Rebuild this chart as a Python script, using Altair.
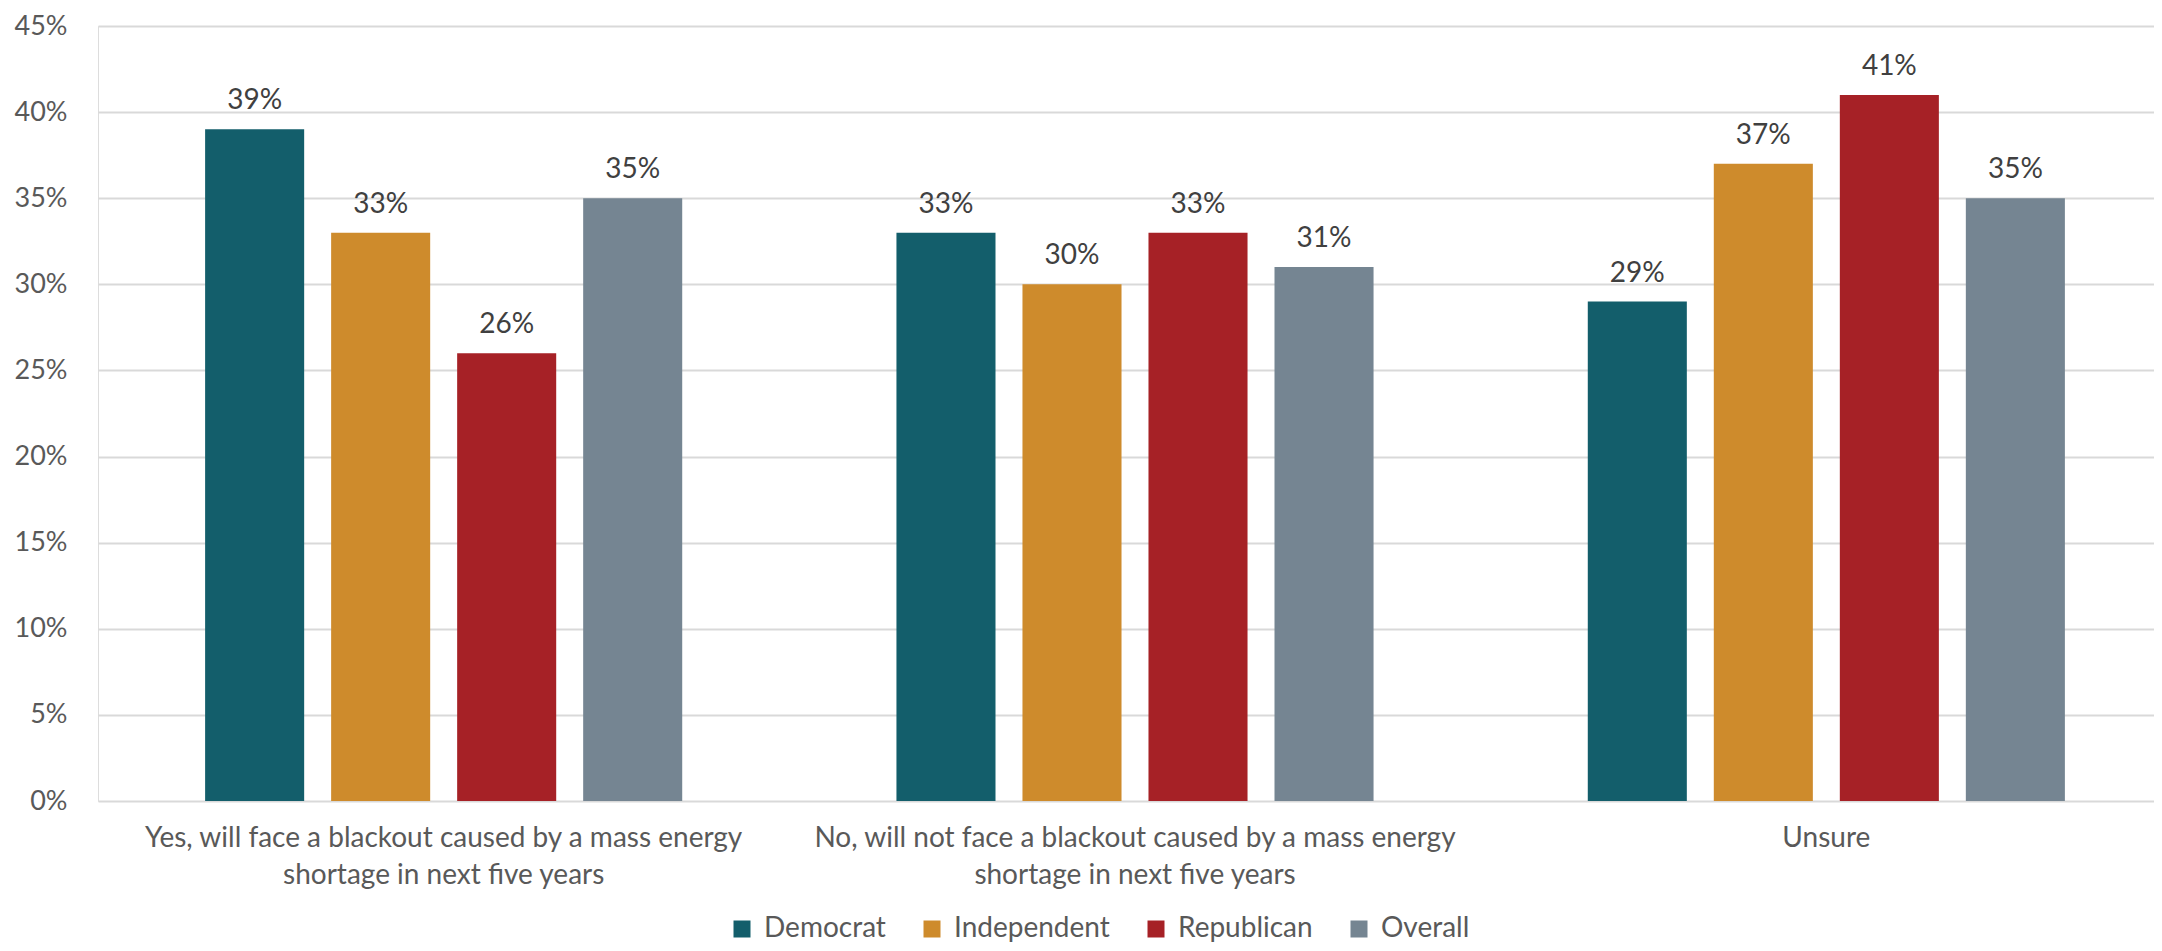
import altair as alt
import pandas as pd

categories = [
    "Yes, will face a blackout caused by a mass energy|shortage in next five years",
    "No, will not face a blackout caused by a mass energy|shortage in next five years",
    "Unsure",
]
parties = ["Democrat", "Independent", "Republican", "Overall"]
democrat = [39, 33, 29]
independent = [33, 30, 37]
republican = [26, 33, 41]
overall = [35, 31, 35]
colors = ["#135E6B", "#CE8B2C", "#A62126", "#758592"]
y_ticks = [0, 5, 10, 15, 20, 25, 30, 35, 40, 45]

series = [democrat, independent, republican, overall]
rows = []
for p, vals in zip(parties, series):
    for c, v in zip(categories, vals):
        rows.append({"category": c, "party": p, "value": v})
df = pd.DataFrame(rows)

FONT = "Lato"

x = alt.X(
    "category:N",
    sort=categories,
    scale=alt.Scale(paddingInner=0, paddingOuter=0, range=[0, 2074]),
    axis=alt.Axis(
        title=None,
        labelAngle=0,
        labelExpr="split(datum.label, '|')",
        labelFont=FONT,
        labelFontSize=28,
        labelColor="#595959",
        labelBaseline="alphabetic",
        labelPadding=45,
        labelLineHeight=37,
        ticks=False,
        domain=False,
        labelLimit=1000,
    ),
)
xoff = alt.XOffset(
    "party:N",
    sort=parties,
    scale=alt.Scale(paddingInner=0.214, paddingOuter=0.85),
)
y = alt.Y(
    "value:Q",
    scale=alt.Scale(domain=[0, 45], nice=False),
    axis=alt.Axis(
        title=None,
        values=y_ticks,
        labelExpr="datum.value + '%'",
        labelFont=FONT,
        labelFontSize=27,
        labelColor="#595959",
        labelPadding=31,
        ticks=False,
        domain=False,
        grid=True,
        gridColor="#D9D9D9",
        gridWidth=2,
    ),
)
color = alt.Color(
    "party:N",
    sort=parties,
    scale=alt.Scale(domain=parties, range=colors),
    legend=alt.Legend(
        title=None,
        orient="none",
        direction="horizontal",
        legendX=630,
        legendY=889,
        symbolType="square",
        symbolSize=289,
        symbolStrokeWidth=0,
        symbolOpacity=1,
        labelFont=FONT,
        labelFontSize=28,
        labelColor="#595959",
        labelOffset=8,
        columnPadding=32,
        padding=0,
    ),
)

bars = alt.Chart(df).mark_bar().encode(x=x, xOffset=xoff, y=y, color=color)
labels = alt.Chart(df).transform_calculate(
    lbl="datum.value + '%'"
).mark_text(
    baseline="alphabetic", dy=-20, font=FONT, fontSize=28, color="#404040"
).encode(
    x=alt.X("category:N", sort=categories),
    xOffset=alt.XOffset("party:N", sort=parties),
    y=alt.Y("value:Q"),
    text=alt.Text("lbl:N"),
)

chart = (
    alt.layer(bars, labels)
    .properties(
        width=2056,
        height=775,
        autosize=alt.AutoSizeParams(type="none"),
        padding={"left": 90, "top": 18, "right": 0, "bottom": 141},
    )
    .configure_view(stroke=None)
    .configure(background="white")
)

chart.save("out.html", embed_options={"renderer": "svg", "actions": False})
